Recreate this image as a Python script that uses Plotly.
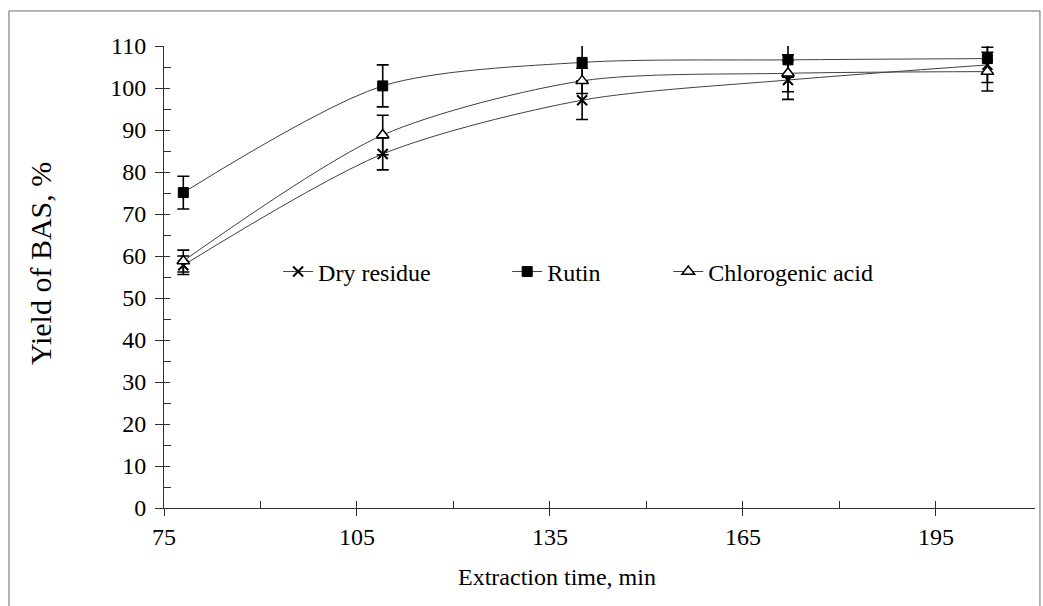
import plotly.graph_objects as go

time_min = [78, 109, 140, 172, 203]

dry_residue = [57.8, 84.3, 97.1, 101.9, 105.5]
dry_err = [2.2, 3.8, 4.6, 4.6, 4.2]

rutin = [75.1, 100.5, 106.1, 106.7, 107.0]
rutin_err = [3.9, 5.0, 4.8, 4.1, 3.5]

chlorogenic = [58.8, 88.8, 101.7, 103.5, 103.9]
chloro_err = [2.6, 4.7, 3.0, 4.4, 4.6]

x_ticks = [75, 105, 135, 165, 195]
y_ticks = [0, 10, 20, 30, 40, 50, 60, 70, 80, 90, 100, 110]

FONT = "Liberation Serif, Times New Roman, serif"
LINE = "#404040"
AX = "#303030"

fig = go.Figure()

def add(name, y, err, marker, legend):
    fig.add_trace(go.Scatter(
        x=time_min, y=y, name=name, mode="lines+markers",
        line=dict(color=LINE, width=1, shape="spline", smoothing=0.8),
        marker=marker,
        error_y=dict(type="data", array=err, visible=True, color="black",
                     thickness=1.6, width=6),
        cliponaxis=False, legend=legend,
    ))

add("Dry residue", dry_residue, dry_err,
    dict(symbol="x-thin", size=10, color="black", line=dict(color="black", width=2)), "legend")
add("Rutin", rutin, rutin_err,
    dict(symbol="square", size=10, color="black", line=dict(color="black", width=1)), "legend2")
add("Chlorogenic acid", chlorogenic, chloro_err,
    dict(symbol="triangle-up", size=11, color="white", line=dict(color="black", width=1.5)), "legend3")

# dummy trace for overlay axes (inside halves of crossing ticks)
fig.add_trace(go.Scatter(x=[None], y=[None], xaxis="x2", yaxis="y2",
                         showlegend=False, hoverinfo="skip"))

xr = [75, 210.4]
yr = [0, 110]

leg_common = dict(orientation="h", yanchor="middle", xanchor="left",
                  bgcolor="rgba(0,0,0,0)", font=dict(family=FONT, size=24, color="black"))

fig.update_layout(
    width=1043, height=606,
    margin=dict(l=164, r=8, t=46, b=98),
    paper_bgcolor="white", plot_bgcolor="white",
    font=dict(family=FONT, size=24, color="black"),
    xaxis=dict(range=xr, tickvals=x_ticks, ticks="outside", ticklen=7,
               tickwidth=1, tickcolor=AX, showline=True, linecolor=AX, linewidth=1,
               showgrid=False, zeroline=False,
               minor=dict(tickvals=[90, 120, 150, 180], ticks="inside", ticklen=7,
                          tickcolor=AX, tickwidth=1),
               tickfont=dict(family=FONT, size=24, color="black"),
               ticklabelstandoff=0),
    yaxis=dict(range=yr, tickvals=y_ticks, ticks="outside", ticklen=8,
               tickwidth=1, tickcolor=AX, showline=True, linecolor=AX, linewidth=1,
               showgrid=False, zeroline=False,
               minor=dict(tickvals=[5, 15, 25, 35, 45, 55, 65, 75, 85, 95, 105],
                          ticks="inside", ticklen=7, tickcolor=AX, tickwidth=1),
               tickfont=dict(family=FONT, size=24, color="black"),
               ticklabelstandoff=4),
    xaxis2=dict(range=xr, overlaying="x", anchor="y2", side="bottom",
                tickvals=x_ticks, ticks="inside", ticklen=7, tickcolor=AX,
                showticklabels=False, showline=False, showgrid=False, zeroline=False),
    yaxis2=dict(range=yr, overlaying="y", anchor="x2", side="left",
                tickvals=y_ticks, ticks="inside", ticklen=6, tickcolor=AX,
                showticklabels=False, showline=False, showgrid=False, zeroline=False),
    legend=dict(x=0.131, y=0.511, **leg_common),
    legend2=dict(x=0.394, y=0.511, **leg_common),
    legend3=dict(x=0.579, y=0.511, **leg_common),
    annotations=[
        dict(text="Yield of BAS, %", xref="paper", yref="paper", x=-0.1424, y=0.53,
             textangle=-90, showarrow=False, xanchor="center", yanchor="middle",
             font=dict(family=FONT, size=30, color="black")),
        dict(text="Extraction time, min", xref="paper", yref="paper", x=0.451, y=-0.149,
             showarrow=False, xanchor="center", yanchor="middle",
             font=dict(family=FONT, size=24, color="black")),
    ],
    shapes=[dict(type="rect", xref="paper", yref="paper",
                 x0=-0.178, x1=1.0057, y0=-0.3, y1=1.0758,
                 line=dict(color="#6a6a6a", width=1), fillcolor="rgba(0,0,0,0)",
                 layer="below")],
    showlegend=True,
)

fig.write_html("out.html")
